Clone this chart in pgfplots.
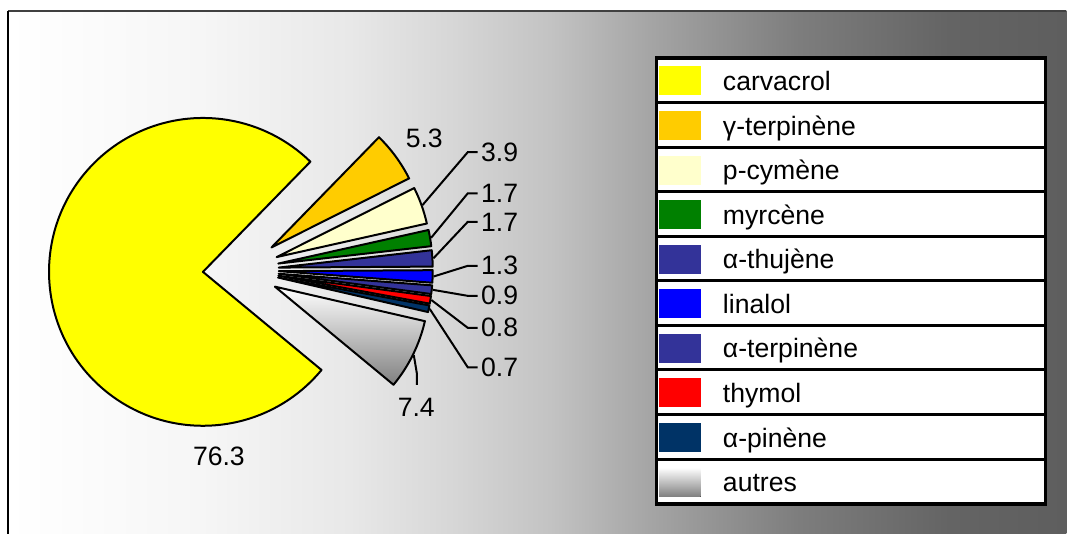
\documentclass[border=0pt]{standalone}
\usepackage{pgfplots}
\pgfplotsset{compat=1.18}
\usepackage{pgfplotstable}
\usepackage{fontspec}
\setmainfont{Liberation Sans}

\definecolor{cCarv}{HTML}{FFFF00}
\definecolor{cGter}{HTML}{FFCC00}
\definecolor{cPcym}{HTML}{FFFFCC}
\definecolor{cMyrc}{HTML}{008000}
\definecolor{cThuj}{HTML}{333399}
\definecolor{cLina}{HTML}{0000FF}
\definecolor{cAter}{HTML}{333399}
\definecolor{cThym}{HTML}{FF0000}
\definecolor{cApin}{HTML}{003366}
\definecolor{cAutr}{HTML}{808080}

\definecolor{bg1}{RGB}{246,246,246}
\definecolor{bg2}{RGB}{232,232,232}
\definecolor{bg3}{RGB}{215,215,215}
\definecolor{bg4}{RGB}{195,195,195}
\definecolor{bg5}{RGB}{165,165,165}
\definecolor{bg6}{RGB}{125,125,125}
\definecolor{bg7}{RGB}{100,100,100}
\definecolor{bg8}{RGB}{94,94,94}
\pgfdeclarehorizontalshading{bgshade}{100bp}{color(0bp)=(white); color(25bp)=(white);
  color(34.07bp)=(bg1); color(41.15bp)=(bg2); color(45.87bp)=(bg3); color(50.59bp)=(bg4);
  color(55.31bp)=(bg5); color(62.39bp)=(bg6); color(69.48bp)=(bg7); color(75bp)=(bg8);
  color(100bp)=(bg8)}

% value in %, kind of label: 0 plain, 1 leader to the right, 2 leader down
% lx, ly: label position in pixels (y from the top)
\pgfplotstableread{
name value kind lx ly
carvacrol 76.3 0 219 456.3
γ-terpinène 5.3 0 424.5 138.5
p-cymène 3.9 1 0 152.3
myrcène 1.7 1 0 193.5
α-thujène 1.7 1 0 222
linalol 1.3 1 0 266
α-terpinène 0.9 1 0 296
thymol 0.8 1 0 328
α-pinène 0.7 1 0 367.5
autres 7.4 2 416.5 408
}\slices

\tikzset{
  slc/.style={draw=black, line width=1pt, line join=round},
  slice0/.style={slc, fill=cCarv}, slice1/.style={slc, fill=cGter},
  slice2/.style={slc, fill=cPcym}, slice3/.style={slc, fill=cMyrc},
  slice4/.style={slc, fill=cThuj}, slice5/.style={slc, fill=cLina},
  slice6/.style={slc, fill=cAter}, slice7/.style={slc, fill=cThym},
  slice8/.style={slc, fill=cApin},
  slice9/.style={slc, top color=white, bottom color=cAutr},
  sw0/.style={fill=cCarv}, sw1/.style={fill=cGter}, sw2/.style={fill=cPcym},
  sw3/.style={fill=cMyrc}, sw4/.style={fill=cThuj}, sw5/.style={fill=cLina},
  sw6/.style={fill=cAter}, sw7/.style={fill=cThym}, sw8/.style={fill=cApin},
  sw9/.style={top color=white, bottom color=cAutr},
  legrow/.style={draw=black, fill=white, line width=1.5pt},
  lab/.style={font=\fontsize{13.3}{16}\selectfont, inner sep=0pt},
  legtext/.style={font=\fontsize{13.3}{16}\selectfont, inner sep=0pt},
  lead/.style={draw=black, line width=1pt},
}

\begin{document}
\begin{tikzpicture}
\begin{axis}[x=0.5pt, y=0.5pt, xmin=0, xmax=1067, ymin=0, ymax=534,
  hide axis, clip=false, scale only axis]
\fill[white] (axis cs:0,0) rectangle (axis cs:1067,534);
\shade[shading=bgshade] (axis cs:8,0) rectangle (axis cs:1067,523);
\draw[line width=0.6pt, black!75] (axis cs:8,523) -- (axis cs:1067,523);
\draw[line width=1pt] (axis cs:8,0) -- (axis cs:8,523.3);

\xdef\curang{320.4}
\pgfplotsinvokeforeach{0,...,9}{%
  \pgfplotstablegetelem{#1}{value}\of\slices \let\val\pgfplotsretval
  \pgfplotstablegetelem{#1}{name}\of\slices \let\nm\pgfplotsretval
  \pgfplotstablegetelem{#1}{kind}\of\slices \let\kd\pgfplotsretval
  \pgfplotstablegetelem{#1}{lx}\of\slices \let\lx\pgfplotsretval
  \pgfplotstablegetelem{#1}{ly}\of\slices \let\ly\pgfplotsretval
  \pgfmathsetmacro\aA{\curang}
  \pgfmathsetmacro\aB{\curang-3.6*\val}
  \pgfmathsetmacro\aM{(\aA+\aB)/2}
  \pgfmathsetmacro\px{241+38*cos(\aM)}
  \pgfmathsetmacro\py{264+38*sin(\aM)}
  \pgfmathsetmacro\qx{\px+154*cos(\aA)}
  \pgfmathsetmacro\qy{\py+154*sin(\aA)}
  \pgfmathsetmacro\ox{\px+155*cos(\aM)}
  \pgfmathsetmacro\oy{\py+155*sin(\aM)}
  \pgfmathsetmacro\LY{534-\ly}
  \pgfmathsetmacro\RT{534-58-44.6*#1}
  \pgfmathsetmacro\RB{\RT-44.6}
  \pgfmathsetmacro\ST{\RT-8.5}
  \pgfmathsetmacro\SB{\RT-37.5}
  \pgfmathsetmacro\BL{\RT-32.5}
  \xdef\curang{\aB}
  \edef\temp{%
    \noexpand\draw[slice#1] (axis cs:\px,\py) -- (axis cs:\qx,\qy)
      arc[start angle=\aA, end angle=\aB, radius=77pt] -- cycle;
    \noexpand\draw[legrow] (axis cs:657,\RT) rectangle (axis cs:1046,\RB);
    \noexpand\fill[sw#1] (axis cs:659.5,\ST) rectangle (axis cs:701,\SB);
    \noexpand\node[legtext, anchor=base west] at (axis cs:723,\BL) {\nm};
  }\temp
  \ifcase\kd\relax
    \edef\temp{\noexpand\node[lab] at (axis cs:\lx,\LY) {\val};}%
  \or
    \edef\temp{\noexpand\draw[lead] (axis cs:\ox,\oy) -- (axis cs:468,\LY) -- (axis cs:478,\LY);
      \noexpand\node[lab, anchor=west] at (axis cs:481,\LY) {\val};}%
  \or
    \edef\temp{\noexpand\draw[lead] (axis cs:\ox,\oy) -- (axis cs:417,161) -- (axis cs:417,149);
      \noexpand\node[lab] at (axis cs:\lx,\LY) {\val};}%
  \fi
  \temp
}
\draw[line width=1.7pt] (axis cs:657,476) rectangle (axis cs:1046,29);
\end{axis}
\end{tikzpicture}
\end{document}
